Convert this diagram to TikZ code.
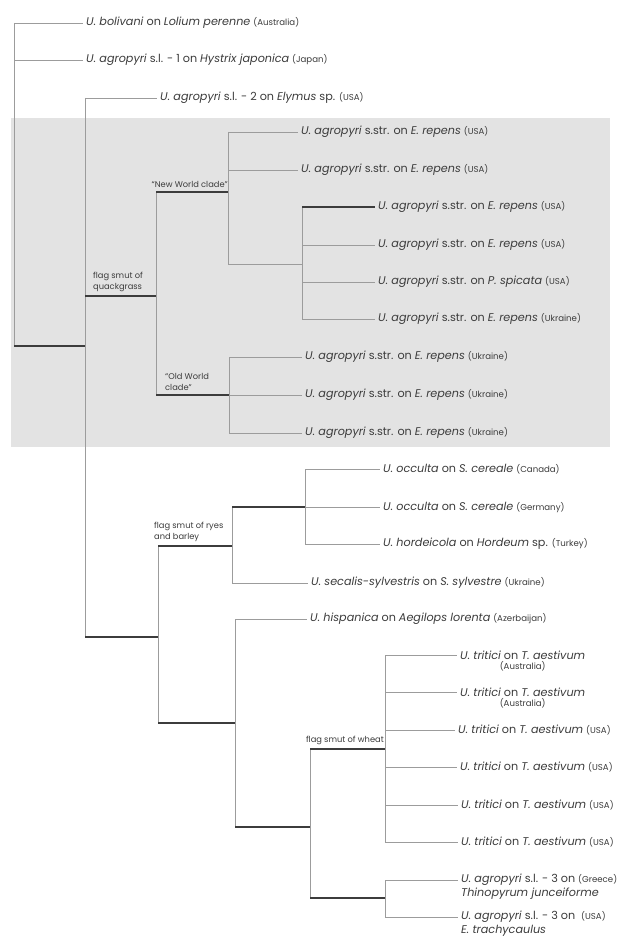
\documentclass[tikz,border=0pt]{standalone}
\usepackage{fontspec}
\setmainfont{Poppins}
\usetikzlibrary{positioning}
\definecolor{treeink}{HTML}{3C3C3C}
\definecolor{twiggray}{HTML}{9C9C9C}
\definecolor{boxgray}{HTML}{E3E3E3}
\newcommand{\ctry}[1]{{\fontsize{8.6}{9}\selectfont(#1)}}

\begin{document}
\begin{tikzpicture}[
    x=1pt,y=-1pt,
    taxon/.style={anchor=west,inner sep=3pt,font=\fontsize{11.2}{12}\selectfont,text=treeink},
    subline/.style={inner sep=1pt,font=\fontsize{11.2}{12}\selectfont,text=treeink},
    clade/.style={inner sep=1pt,align=left,font=\fontsize{8.3}{11.5}\selectfont,text=treeink},
    twig/.style={draw=twiggray,line width=.7pt},
    stem/.style={draw=treeink,line width=2pt}
  ]
    \useasboundingbox (0,0) rectangle (622,939);
    \fill[white] (0,0) rectangle (622,939);
    \fill[boxgray] (11,118) rectangle (610,447);

    % branching points (x, y of stem)
    \coordinate (root) at (14,346);
    \coordinate (nA) at (85,346);
    \coordinate (nQ) at (156,296);
    \coordinate (nNW) at (228,192);
    \coordinate (nNWi) at (302,264);
    \coordinate (nOW) at (229,395);
    \coordinate (nL) at (158,637);
    \coordinate (nR) at (232,546);
    \coordinate (nO) at (305,507);
    \coordinate (nH) at (235,723);
    \coordinate (nW2) at (310,827);
    \coordinate (nWh) at (385,749);
    \coordinate (nT) at (385,898);

    % taxa
    \node[taxon] (t1) at (83,23) {\textit{U. bolivani} on \textit{Lolium perenne} \ctry{Australia}};
    \node[taxon] (t2) at (83,60) {\textit{U. agropyri} s.l. - 1 on \textit{Hystrix japonica} \ctry{Japan}};
    \node[taxon] (t3) at (157,98) {\textit{U. agropyri} s.l. - 2 on \textit{Elymus} sp. \ctry{USA}};
    \node[taxon] (t4) at (298,132) {\textit{U. agropyri} s.str. on \textit{E. repens} \ctry{USA}};
    \node[taxon] (t5) at (298,170) {\textit{U. agropyri} s.str. on \textit{E. repens} \ctry{USA}};
    \node[taxon] (t6) at (375,207) {\textit{U. agropyri} s.str. on \textit{E. repens} \ctry{USA}};
    \node[taxon] (t7) at (375,245) {\textit{U. agropyri} s.str. on \textit{E. repens} \ctry{USA}};
    \node[taxon] (t8) at (375,282) {\textit{U. agropyri} s.str. on \textit{P. spicata} \ctry{USA}};
    \node[taxon] (t9) at (375,319) {\textit{U. agropyri} s.str. on \textit{E. repens} \ctry{Ukraine}};
    \node[taxon] (t10) at (302,357) {\textit{U. agropyri} s.str. on \textit{E. repens} \ctry{Ukraine}};
    \node[taxon] (t11) at (302,395) {\textit{U. agropyri} s.str. on \textit{E. repens} \ctry{Ukraine}};
    \node[taxon] (t12) at (302,433) {\textit{U. agropyri} s.str. on \textit{E. repens} \ctry{Ukraine}};
    \node[taxon] (t13) at (380,469) {\textit{U. occulta} on \textit{S. cereale} \ctry{Canada}};
    \node[taxon] (t14) at (380,507) {\textit{U. occulta} on \textit{S. cereale} \ctry{Germany}};
    \node[taxon] (t15) at (380,544) {\textit{U. hordeicola} on \textit{Hordeum} sp. \ctry{Turkey}};
    \node[taxon] (t16) at (308,583) {\textit{U. secalis-sylvestris} on \textit{S. sylvestre} \ctry{Ukraine}};
    \node[taxon] (t17) at (307,619) {\textit{U. hispanica} on \textit{Aegilops lorenta} \ctry{Azerbaijan}};
    \node[taxon] (t18) at (457,655) {\textit{U. tritici} on \textit{T. aestivum}};
    \node[subline,below=-2.5pt of t18] (t18b) {\ctry{Australia}};
    \node[taxon] (t19) at (457,692) {\textit{U. tritici} on \textit{T. aestivum}};
    \node[subline,below=-2.5pt of t19] (t19b) {\ctry{Australia}};
    \node[taxon] (t20) at (455,730) {\textit{U. tritici} on \textit{T. aestivum} \ctry{USA}};
    \node[taxon] (t21) at (457,767) {\textit{U. tritici} on \textit{T. aestivum} \ctry{USA}};
    \node[taxon] (t22) at (458,805) {\textit{U. tritici} on \textit{T. aestivum} \ctry{USA}};
    \node[taxon] (t23) at (458,842) {\textit{U. tritici} on \textit{T. aestivum} \ctry{USA}};
    \node[taxon] (t24) at (458,880) {\textit{U. agropyri} s.l. - 3 on \ctry{Greece}};
    \node[subline,anchor=north west] (t24b) at ([xshift=2pt,yshift=2pt]t24.south west) {\textit{Thinopyrum junceiforme}};
    \node[taxon] (t25) at (458,917) {\textit{U. agropyri} s.l. - 3 on \ \ctry{USA}};
    \node[subline,anchor=north west] (t25b) at ([xshift=2pt,yshift=2pt]t25.south west) {\textit{E. trachycaulus}};

    % clade labels
    \node[clade,anchor=south east] (lNW) at (229,189) {``New World clade''};
    \node[clade,anchor=south west] (lQ) at (92,293) {flag smut of\\quackgrass};
    \node[clade,anchor=south west] (lOW) at (164,392) {``Old World\\clade''};
    \node[clade,anchor=south west] (lRB) at (153,543) {flag smut of ryes\\and barley};
    \node[clade,anchor=south east] (lW) at (385,746) {flag smut of wheat};

    % verticals
    \draw[twig] (root |- t1.west) -- (root);
    \draw[twig] (nA |- t3.west) -- (nA |- nL);
    \draw[twig] (nQ |- nNW) -- (nQ |- nOW);
    \draw[twig] (nNW |- t4.west) -- (nNW |- nNWi);
    \draw[twig] (nNWi |- t6.west) -- (nNWi |- t9.west);
    \draw[twig] (nOW |- t10.west) -- (nOW |- t12.west);
    \draw[twig] (nL |- nR) -- (nL |- nH);
    \draw[twig] (nR |- nO) -- (nR |- t16.west);
    \draw[twig] (nO |- t13.west) -- (nO |- t15.west);
    \draw[twig] (nH |- t17.west) -- (nH |- nW2);
    \draw[twig] (nW2 |- nWh) -- (nW2 |- nT);
    \draw[twig] (nWh |- t18.west) -- (nWh |- t23.west);
    \draw[twig] (nT |- t24.west) -- (nT |- t25.west);

    % leaves
    \foreach \p/\t in {root/t1,root/t2,nA/t3,nNW/t4,nNW/t5,nNWi/t7,nNWi/t8,nNWi/t9,
        nOW/t10,nOW/t11,nOW/t12,nO/t13,nO/t14,nO/t15,nR/t16,nH/t17,
        nWh/t18,nWh/t19,nWh/t20,nWh/t21,nWh/t22,nWh/t23,nT/t24,nT/t25}
      \draw[twig] (\p |- \t.west) -- (\t.west);
    \draw[twig,draw=treeink,line width=1.2pt] (nNWi |- t6.west) -- (t6.west);
    \draw[twig] (nNW |- nNWi) -- (nNWi);

    % clade stems
    \foreach \p/\c in {root/nA,nA/nQ,nQ/nNW,nQ/nOW,nA/nL,nL/nR,nR/nO,nL/nH,nH/nW2,nW2/nWh,nW2/nT}
      \draw[stem] (\p |- \c) -- (\c);
\end{tikzpicture}
\end{document}
